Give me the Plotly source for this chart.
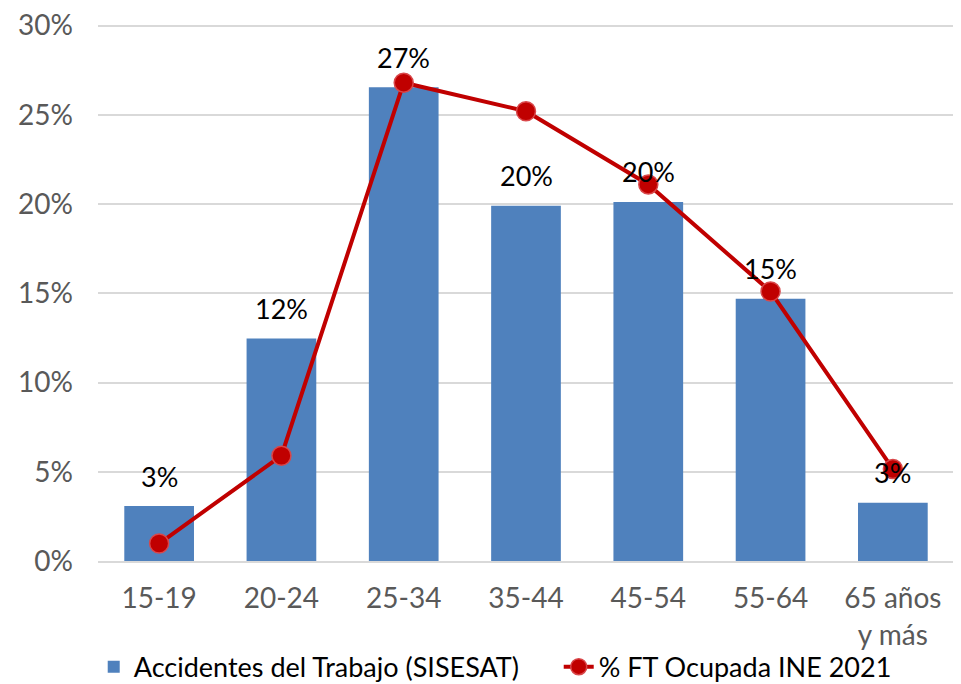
import plotly.graph_objects as go

categories = ["15-19", "20-24", "25-34", "35-44", "45-54", "55-64", "65 años<br>y más"]
accidentes = [0.0308, 0.1246, 0.2655, 0.1990, 0.2012, 0.1470, 0.0327]
ft_ocupada = [0.0098, 0.0590, 0.2680, 0.2520, 0.2110, 0.1510, 0.0516]
bar_labels = [f"{round(v * 100)}%" for v in accidentes]
y_ticks = [0, 0.05, 0.10, 0.15, 0.20, 0.25, 0.30]
y_tick_labels = ["0%", "5%", "10%", "15%", "20%", "25%", "30%"]

FONT = "Lato, Noto Sans, sans-serif"
FS = 28

fig = go.Figure()
fig.add_trace(go.Bar(
    x=categories, y=accidentes,
    name="Accidentes del Trabajo (SISESAT)",
    marker=dict(color="#4F81BD", line=dict(width=0)),
))
fig.add_trace(go.Scatter(
    x=categories, y=ft_ocupada,
    name="% FT Ocupada INE 2021",
    mode="lines+markers",
    line=dict(color="#C00000", width=4),
    marker=dict(size=19, color="#C00000", line=dict(color="#D9474A", width=1.5)),
    cliponaxis=False,
))

for c, v, t in zip(categories, accidentes, bar_labels):
    fig.add_annotation(x=c, y=v, text=t, showarrow=False, yanchor="middle",
                       yshift=30, font=dict(size=FS - 1, color="#000000", family=FONT))

fig.update_layout(
    width=953, height=679,
    margin=dict(l=90, r=7, t=14, b=126, autoexpand=False),
    paper_bgcolor="white", plot_bgcolor="white",
    bargap=0.43,
    font=dict(family=FONT, size=FS, color="#595959"),
    showlegend=True,
    legend=dict(orientation="h", x=-0.005, xanchor="left", y=-0.197, yanchor="middle",
                bgcolor="rgba(0,0,0,0)",
                font=dict(size=FS - 1, color="#000000", family=FONT),
                traceorder="normal", entrywidth=420),
)
fig.update_yaxes(range=[0, 0.302], tickvals=y_ticks, ticktext=y_tick_labels,
                 showgrid=True, gridcolor="#D9D9D9", gridwidth=1.5,
                 zeroline=False, showline=False, ticks="", ticklen=0,
                 ticklabelstandoff=24, automargin=False, ticklabeloverflow="allow",
                 tickfont=dict(size=FS, color="#595959"))
fig.update_xaxes(showline=True, linecolor="#D9D9D9", linewidth=1.5,
                 ticks="", ticklabelstandoff=12, automargin=False,
                 tickfont=dict(size=FS, color="#595959"))

fig.write_html("out.html")
